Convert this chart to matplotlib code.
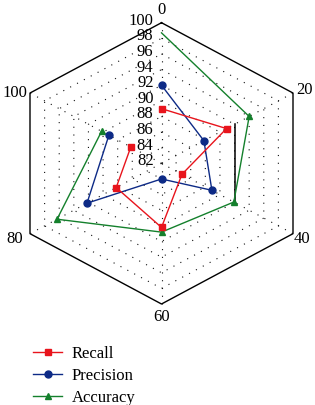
import numpy as np
import matplotlib
matplotlib.use("Agg")
import matplotlib.pyplot as plt
from matplotlib.lines import Line2D
import matplotlib.transforms as mtransforms

# ---- data ----
axis_labels = ["0", "20", "40", "60", "80", "100"]
radial_ticks = [82, 84, 86, 88, 90, 92, 94, 96, 98, 100]
recall = [89.0, 90.9, 84.8, 90.2, 88.2, 86.2]
precision = [92.0, 87.8, 88.9, 84.0, 92.2, 89.2]
accuracy = [98.7, 94.0, 91.9, 90.8, 96.3, 90.2]
series_names = ["Recall", "Precision", "Accuracy"]
highlight_axes = ["20", "40"]
highlight_value = 92

# ---- style ----
plt.rcParams['font.family'] = ['Liberation Serif', 'DejaVu Serif']
colors = {"Recall": "#e8141c", "Precision": "#0d2a86", "Accuracy": "#14802c"}
markers = {"Recall": "s", "Precision": "o", "Accuracy": "^"}

rmin, rmax = radial_ticks[0], radial_ticks[-1]
n = len(axis_labels)
theta = np.deg2rad(np.arange(n) * 360.0 / n)


def to_xy(values, idx=None):
    values = np.asarray(values, dtype=float)
    th = theta if idx is None else theta[idx]
    r = values - rmin
    return r * np.sin(th), r * np.cos(th)


fig = plt.figure(figsize=(3.15, 4.05), dpi=100)
R = rmax - rmin
ax = fig.add_axes([30 / 315, 1 - 304 / 405, 263 / 315, 281.3 / 405])
ax.set_xlim(-R * np.sin(np.pi / 3), R * np.sin(np.pi / 3))
ax.set_ylim(-R, R)
ax.axis("off")

grid_style = dict(color="#111111", lw=0.8, ls=(0, (1, 6)), zorder=1, clip_on=False)
# grid rings (dotted hexagons)
for v in radial_ticks[1:-1]:
    x, y = to_xy([v] * n)
    ax.plot(np.append(x, x[0]), np.append(y, y[0]), **grid_style)
# spokes
for i in range(n):
    x, y = to_xy([rmin, rmax], [i, i])
    ax.plot(x, y, **grid_style)
# outer frame
x, y = to_xy([rmax] * n)
ax.plot(np.append(x, x[0]), np.append(y, y[0]), color="black", lw=1.0,
        zorder=2, clip_on=False)

# highlighted segment
hi = [axis_labels.index(a) for a in highlight_axes]
x, y = to_xy([highlight_value] * 2, hi)
ax.plot(x, y, color="black", lw=1.1, zorder=2, clip_on=False)

# series
data = {"Recall": recall, "Precision": precision, "Accuracy": accuracy}
zorders = {"Recall": 5, "Precision": 4, "Accuracy": 3}
for name in series_names:
    x, y = to_xy(data[name])
    mev = list(range(1, n)) if name == "Accuracy" else None
    ax.plot(x, y, color=colors[name], lw=1.0, marker=markers[name],
            markersize=5, markevery=mev, zorder=zorders[name], clip_on=False)

# axis labels at vertices
fs = 12
lbl_pos = {
    0: dict(dx=0, dy=5, ha="center", va="bottom"),
    1: dict(dx=3, dy=3, ha="left", va="center"),
    2: dict(dx=1, dy=-5, ha="left", va="center"),
    3: dict(dx=0, dy=-5, ha="center", va="top"),
    4: dict(dx=-7, dy=-5, ha="right", va="center"),
    5: dict(dx=-3, dy=0, ha="right", va="center"),
}
for i, lab in enumerate(axis_labels):
    x, y = to_xy([rmax], [i])
    p = lbl_pos[i]
    tr = ax.transData + mtransforms.ScaledTranslation(p["dx"] / 100, p["dy"] / 100,
                                                         fig.dpi_scale_trans)
    ax.text(x[0], y[0], lab, transform=tr, ha=p["ha"], va=p["va"], fontsize=fs)

# radial tick labels
for v in radial_ticks:
    x, y = to_xy([v], [0])
    tr = ax.transData + mtransforms.ScaledTranslation(-8 / 100, 2 / 100,
                                                       fig.dpi_scale_trans)
    ax.text(x[0], y[0], str(v), transform=tr, ha="right", va="center", fontsize=fs,
            zorder=6)

# legend
handles = [Line2D([], [], color=colors[nm], marker=markers[nm], markersize=5, lw=1.0)
           for nm in series_names]
fig.legend(handles, series_names, loc="upper left", bbox_to_anchor=(0.085, 0.163),
           frameon=False, fontsize=12, handlelength=1.7, handletextpad=0.6,
           labelspacing=0.38, borderaxespad=0)

fig.savefig("out.png", dpi=100)
